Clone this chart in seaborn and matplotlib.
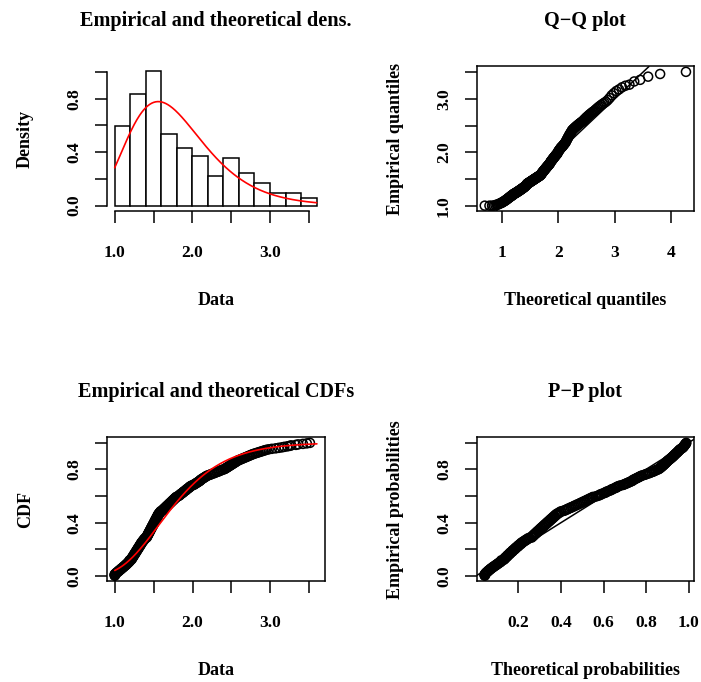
import math
import numpy as np
import pandas as pd
import matplotlib
matplotlib.use("Agg")
import matplotlib.pyplot as plt
import seaborn as sns

# ---------------- data ----------------
DATA = [
    1.00, 1.00, 1.00, 1.00, 1.01, 1.02, 1.02, 1.03, 1.04, 1.05, 1.05, 1.06, 1.07, 1.08, 1.08, 1.09,
    1.10, 1.11, 1.11, 1.12, 1.13, 1.14, 1.14, 1.15, 1.16, 1.16, 1.17, 1.18, 1.18, 1.19, 1.19, 1.19,
    1.21, 1.21, 1.22, 1.22, 1.22, 1.23, 1.23, 1.24, 1.24, 1.24, 1.25, 1.25, 1.26, 1.26, 1.26, 1.27,
    1.27, 1.28, 1.28, 1.28, 1.29, 1.29, 1.30, 1.30, 1.30, 1.31, 1.31, 1.32, 1.32, 1.32, 1.33, 1.33,
    1.34, 1.34, 1.34, 1.35, 1.35, 1.36, 1.36, 1.37, 1.37, 1.38, 1.38, 1.39, 1.39,
    1.41, 1.41, 1.41, 1.42, 1.42, 1.42, 1.43, 1.43, 1.43, 1.44, 1.44, 1.44, 1.45, 1.45, 1.45,
    1.46, 1.46, 1.46, 1.47, 1.47, 1.47, 1.48, 1.48, 1.48, 1.49, 1.49, 1.49, 1.50, 1.50, 1.50,
    1.51, 1.51, 1.51, 1.52, 1.52, 1.52, 1.53, 1.53, 1.53, 1.54, 1.54, 1.54, 1.55, 1.55, 1.55,
    1.56, 1.56, 1.56, 1.57, 1.57, 1.58, 1.58, 1.59, 1.59,
    1.61, 1.61, 1.62, 1.63, 1.63, 1.64, 1.65, 1.65, 1.66, 1.67, 1.67, 1.68, 1.69, 1.69, 1.70,
    1.71, 1.71, 1.72, 1.73, 1.73, 1.74, 1.75, 1.75, 1.76, 1.77, 1.77, 1.78, 1.79, 1.79,
    1.81, 1.82, 1.83, 1.84, 1.84, 1.85, 1.86, 1.87, 1.88, 1.88, 1.89, 1.90, 1.91, 1.92, 1.92,
    1.93, 1.94, 1.95, 1.96, 1.96, 1.97, 1.98, 1.99,
    2.01, 2.02, 2.03, 2.04, 2.05, 2.06, 2.07, 2.08, 2.09, 2.10, 2.10, 2.11, 2.12, 2.13, 2.14,
    2.15, 2.16, 2.17, 2.18, 2.19,
    2.21, 2.23, 2.24, 2.26, 2.28, 2.29, 2.31, 2.33, 2.34, 2.36, 2.37, 2.39,
    2.41, 2.42, 2.43, 2.44, 2.45, 2.46, 2.47, 2.48, 2.49, 2.50, 2.51, 2.52, 2.53, 2.54, 2.55,
    2.56, 2.57, 2.58, 2.59,
    2.61, 2.62, 2.64, 2.65, 2.67, 2.68, 2.70, 2.71, 2.73, 2.74, 2.76, 2.77, 2.79,
    2.81, 2.83, 2.85, 2.87, 2.89, 2.91, 2.93, 2.95, 2.98,
    3.02, 3.07, 3.11, 3.15, 3.18,
    3.22, 3.25, 3.27, 3.33, 3.36,
    3.42, 3.47, 3.51,
]
BIN_EDGES = [1.0, 1.2, 1.4, 1.6, 1.8, 2.0, 2.2, 2.4, 2.6, 2.8, 3.0, 3.2, 3.4, 3.6]

# fitted log-normal distribution
MEANLOG = 0.543
SDLOG = 0.313
CURVE_RANGE = (1.0, 3.6)

TITLES = ["Empirical and theoretical dens.", "Q\u2212Q plot",
          "Empirical and theoretical CDFs", "P\u2212P plot"]
XLABELS = ["Data", "Theoretical quantiles", "Data", "Theoretical probabilities"]
YLABELS = ["Density", "Empirical quantiles", "CDF", "Empirical probabilities"]

DATA_TICKS = [1.0, 1.5, 2.0, 2.5, 3.0, 3.5]
DATA_TICK_LABELS = ["1.0", "", "2.0", "", "3.0", ""]
PROB_TICKS = [0.0, 0.2, 0.4, 0.6, 0.8, 1.0]
PROB_TICK_LABELS = ["0.0", "", "0.4", "", "0.8", ""]
QQ_X_TICKS = [1, 2, 3, 4]
QQ_X_TICK_LABELS = ["1", "2", "3", "4"]
PP_X_TICKS = [0.2, 0.4, 0.6, 0.8, 1.0]
PP_X_TICK_LABELS = ["0.2", "0.4", "0.6", "0.8", "1.0"]


# ---------------- distribution helpers ----------------
def norm_cdf(z):
    z = np.asarray(z, dtype=float)
    return 0.5 * (1.0 + np.vectorize(math.erf)(z / math.sqrt(2.0)))


def norm_ppf(p):
    a = [-3.969683028665376e+01, 2.209460984245205e+02, -2.759285104469687e+02,
         1.383577518672690e+02, -3.066479806614716e+01, 2.506628277459239e+00]
    b = [-5.447609879822406e+01, 1.615858368580409e+02, -1.556989798598866e+02,
         6.680131188771972e+01, -1.328068155288572e+01]
    c = [-7.784894002430293e-03, -3.223964580411365e-01, -2.400758277161838e+00,
         -2.549671875283310e+00, 4.374664141464968e+00, 2.938163982698783e+00]
    d = [7.784695709041462e-03, 3.224671290700398e-01, 2.445134137142996e+00,
         3.754408661907416e+00]
    out = []
    for q in np.atleast_1d(p):
        if q < 0.02425:
            r = math.sqrt(-2 * math.log(q))
            v = (((((c[0]*r+c[1])*r+c[2])*r+c[3])*r+c[4])*r+c[5]) / \
                ((((d[0]*r+d[1])*r+d[2])*r+d[3])*r+1)
        elif q > 1 - 0.02425:
            r = math.sqrt(-2 * math.log(1 - q))
            v = -(((((c[0]*r+c[1])*r+c[2])*r+c[3])*r+c[4])*r+c[5]) / \
                ((((d[0]*r+d[1])*r+d[2])*r+d[3])*r+1)
        else:
            r = q - 0.5
            s = r * r
            v = (((((a[0]*s+a[1])*s+a[2])*s+a[3])*s+a[4])*s+a[5])*r / \
                (((((b[0]*s+b[1])*s+b[2])*s+b[3])*s+b[4])*s+1)
        out.append(v)
    return np.array(out)


def dlnorm(x):
    x = np.asarray(x, dtype=float)
    z = (np.log(x) - MEANLOG) / SDLOG
    return np.exp(-0.5 * z * z) / (x * SDLOG * math.sqrt(2 * math.pi))


def plnorm(x):
    return norm_cdf((np.log(np.asarray(x, dtype=float)) - MEANLOG) / SDLOG)


def qlnorm(p):
    return np.exp(MEANLOG + SDLOG * norm_ppf(p))


def ext(lo, hi):
    pad = 0.04 * (hi - lo)
    return lo - pad, hi + pad


# ---------------- derived tables ----------------
data = np.sort(np.array(DATA, dtype=float))
n = len(data)
pp = (np.arange(1, n + 1) - 0.5) / n
df = pd.DataFrame({"data": data, "pp": pp,
                   "theo_q": qlnorm(pp), "theo_p": plnorm(data)})
xs = np.linspace(CURVE_RANGE[0], CURVE_RANGE[1], 301)
curve = pd.DataFrame({"x": xs, "dens": dlnorm(xs), "cdf": plnorm(xs)})

# ---------------- style ----------------
sns.set_style("ticks")
plt.rcParams["font.family"] = ["Liberation Serif", "DejaVu Serif"]
plt.rcParams["font.weight"] = "bold"
plt.rcParams["text.color"] = "black"
plt.rcParams["axes.labelcolor"] = "black"
plt.rcParams["axes.titlecolor"] = "black"
plt.rcParams["axes.linewidth"] = 1.1
plt.rcParams["axes.edgecolor"] = "black"

TITLE_SIZE = 14.6
LABEL_SIZE = 13.0
TICK_SIZE = 12.5
LW = 1.1

W, H = 701, 682
fig = plt.figure(figsize=(W / 100, H / 100), dpi=100)


def add_ax(l, r, t, b):
    return fig.add_axes([l / W, 1 - b / H, (r - l) / W, (b - t) / H])


ax1 = add_ax(106.6, 324.7, 66.5, 211.0)
ax2 = add_ax(476.7, 694.0, 66.5, 211.0)
ax3 = add_ax(106.7, 325.0, 437.3, 581.3)
ax4 = add_ax(476.7, 694.3, 437.3, 581.3)
axes = [ax1, ax2, ax3, ax4]

# Panel 1: histogram + density
sns.histplot(data=df, x="data", bins=BIN_EDGES, stat="density", color="white",
             edgecolor="black", linewidth=LW, alpha=1.0, ax=ax1)
sns.lineplot(data=curve, x="x", y="dens", color="red", linewidth=1.2, ax=ax1)
ax1.set_xlim(*ext(BIN_EDGES[0], BIN_EDGES[-1]))
ax1.set_ylim(-0.04, 1.04)
ax1.set_xticks(DATA_TICKS, DATA_TICK_LABELS)
ax1.set_yticks(PROB_TICKS, PROB_TICK_LABELS)
ax1.spines["top"].set_visible(False)
ax1.spines["right"].set_visible(False)
ax1.spines["left"].set_bounds(PROB_TICKS[0], PROB_TICKS[-1])
ax1.spines["bottom"].set_bounds(DATA_TICKS[0], DATA_TICKS[-1])

MK = dict(s=42, facecolors="none", edgecolor="black", linewidth=1.1, marker="o")

# Panel 2: Q-Q
sns.scatterplot(data=df, x="theo_q", y="data", ax=ax2, **MK)
ax2.axline((1.0, 1.0), slope=1, color="black", linewidth=LW)
ax2.set_xlim(*ext(df.theo_q.min(), df.theo_q.max()))
ax2.set_ylim(*ext(df.data.min(), df.data.max()))
ax2.set_xticks(QQ_X_TICKS, QQ_X_TICK_LABELS)
ax2.set_yticks(DATA_TICKS, DATA_TICK_LABELS)

# Panel 3: CDF
sns.scatterplot(data=df, x="data", y="pp", ax=ax3, **MK)
sns.lineplot(data=curve, x="x", y="cdf", color="red", linewidth=1.2, ax=ax3)
ax3.set_xlim(*ext(CURVE_RANGE[0], CURVE_RANGE[1]))
ax3.set_ylim(-0.04, 1.04)
ax3.set_xticks(DATA_TICKS, DATA_TICK_LABELS)
ax3.set_yticks(PROB_TICKS, PROB_TICK_LABELS)

# Panel 4: P-P
sns.scatterplot(data=df, x="theo_p", y="pp", ax=ax4, **MK)
ax4.axline((0.5, 0.5), slope=1, color="black", linewidth=LW)
ax4.set_xlim(*ext(df.theo_p.min(), df.theo_p.max()))
ax4.set_ylim(-0.04, 1.04)
ax4.set_xticks(PP_X_TICKS, PP_X_TICK_LABELS)
ax4.set_yticks(PROB_TICKS, PROB_TICK_LABELS)

for ax, t, xl, yl in zip(axes, TITLES, XLABELS, YLABELS):
    w_px = ax.get_position().width * W
    h_px = ax.get_position().height * H
    ax.set_title(t, fontsize=TITLE_SIZE, fontweight="bold", color="black", pad=29.3)
    ax.set_xlabel(xl, fontsize=LABEL_SIZE, fontweight="bold", color="black")
    ax.set_ylabel(yl, fontsize=LABEL_SIZE, fontweight="bold", color="black")
    ax.xaxis.set_label_coords(0.5, -94.0 / h_px)
    ax.xaxis.label.set_verticalalignment("baseline")
    ax.yaxis.set_label_coords(-76.6 / w_px, 0.5)
    ax.yaxis.label.set_verticalalignment("baseline")
    ax.tick_params(axis="both", direction="out", length=8.9, width=LW,
                   labelsize=TICK_SIZE, colors="black")
    ax.tick_params(axis="x", pad=15.6)
    ax.tick_params(axis="y", pad=8.9, labelrotation=90)
    for lab in ax.get_xticklabels() + ax.get_yticklabels():
        lab.set_fontweight("bold")
    for lab in ax.get_yticklabels():
        lab.set_verticalalignment("center")
    ax.grid(False)

fig.savefig("out.png", dpi=100, facecolor="white")
